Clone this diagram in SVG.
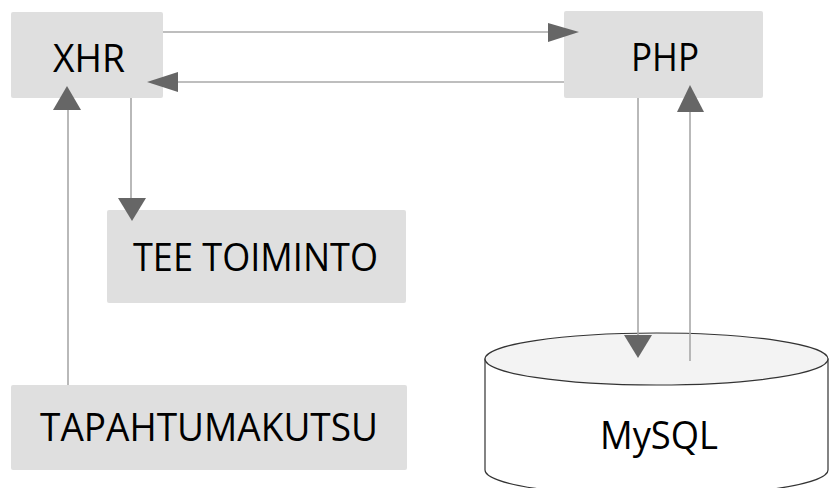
<svg xmlns="http://www.w3.org/2000/svg" width="829" height="488" viewBox="0 0 829 488">
<style>
.box{fill:#dfdfdf;}
.lbl{font-family:"Open Sans","Noto Sans","DejaVu Sans",sans-serif;font-size:39px;fill:#000;text-anchor:middle;}
.ln{stroke:#a8a8a8;stroke-width:1.6;fill:none;}
.ah{fill:#666;}
.cyl{stroke:#333;stroke-width:1.2;}
</style>
<rect width="829" height="488" fill="#fff"/>
<g id="xhr"><rect class="box" x="11" y="12" width="152" height="86" rx="2"/><text class="lbl" x="89" y="72" textLength="72" lengthAdjust="spacingAndGlyphs">XHR</text></g>
<g id="php"><rect class="box" x="564" y="11" width="199" height="87" rx="2"/><text class="lbl" x="665" y="71" textLength="68" lengthAdjust="spacingAndGlyphs">PHP</text></g>
<g id="tee"><rect class="box" x="107" y="210" width="299" height="93" rx="2"/><text class="lbl" x="255.5" y="271" textLength="245" lengthAdjust="spacingAndGlyphs">TEE TOIMINTO</text></g>
<g id="tapahtuma"><rect class="box" x="11" y="385" width="396" height="85" rx="2"/><text class="lbl" x="209" y="441" textLength="338" lengthAdjust="spacingAndGlyphs">TAPAHTUMAKUTSU</text></g>
<g id="mysql">
<path class="cyl" d="M485,359 V470 A171.5,26 0 0 0 828,470 V359 Z" fill="#fff"/>
<ellipse class="cyl" cx="656.5" cy="359" rx="171.5" ry="26" fill="#f3f3f3"/>
<text class="lbl" x="659" y="449" textLength="118" lengthAdjust="spacingAndGlyphs">MySQL</text>
</g>
<g id="connectors">
<line class="ln" x1="163" y1="32" x2="550" y2="32"/><polygon class="ah" points="548,23 579,32 548,42"/>
<line class="ln" x1="564" y1="82" x2="176" y2="82"/><polygon class="ah" points="178,72 147,82 178,92"/>
<line class="ln" x1="131" y1="98" x2="131" y2="200"/><polygon class="ah" points="118,198 146,198 132,221"/>
<line class="ln" x1="68" y1="385" x2="68" y2="108"/><polygon class="ah" points="53,110 81,110 67,86"/>
<line class="ln" x1="638" y1="98" x2="638" y2="337"/><polygon class="ah" points="624,335 652,335 638,358"/>
<line class="ln" x1="690" y1="361" x2="690" y2="110"/><polygon class="ah" points="677,112 704,112 690,85"/>
</g>
</svg>
